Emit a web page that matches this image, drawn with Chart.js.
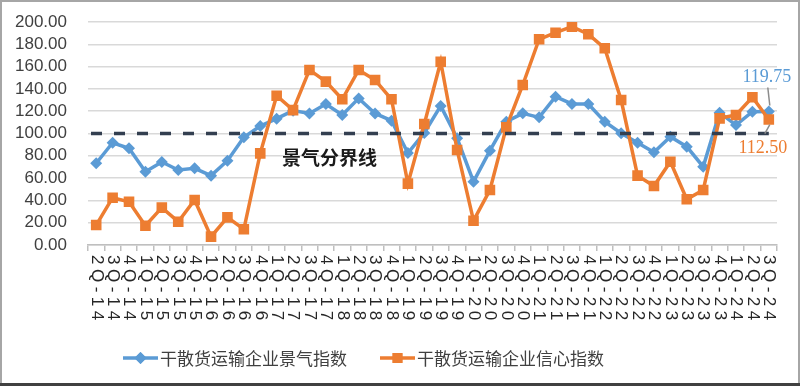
<!DOCTYPE html>
<html>
<head>
<meta charset="utf-8">
<script src="https://cdn.jsdelivr.net/npm/chart.js@4.4.1/dist/chart.umd.min.js"></script>
<style>
  html, body { margin: 0; padding: 0; background: #fff; }
  #wrap { width: 800px; height: 386px; position: relative; }
</style>
</head>
<body>
<div id="wrap"><canvas id="chart" width="800" height="386"></canvas></div>
<script>
const quarters = ["2Q-14","3Q-14","4Q-14","1Q-15","2Q-15","3Q-15","4Q-15","1Q-16","2Q-16","3Q-16","4Q-16",
  "1Q-17","2Q-17","3Q-17","4Q-17","1Q-18","2Q-18","3Q-18","4Q-18","1Q-19","2Q-19","3Q-19","4Q-19",
  "1Q-20","2Q-20","3Q-20","4Q-20","1Q-21","2Q-21","3Q-21","4Q-21","1Q-22","2Q-22","3Q-22","4Q-22",
  "1Q-23","2Q-23","3Q-23","4Q-23","1Q-24","2Q-24","3Q-24"];

// 干散货运输企业景气指数
const prosperity = [73.3, 91.7, 86.7, 65.7, 74.4, 67.3, 68.8, 62.2, 75.6, 96.6, 106.7,
  113.3, 120.5, 118.0, 126.5, 116.6, 131.5, 118.0, 111.5, 82.5, 100.5, 124.7, 95.7,
  56.8, 84.6, 110.6, 118.1, 114.5, 133.0, 126.5, 126.5, 110.6, 100.2, 91.7, 83.1,
  97.1, 88.2, 70.2, 118.7, 107.6, 119.6, 119.75];

// 干散货运输企业信心指数
const confidence = [17.9, 42.4, 38.8, 17.3, 33.5, 20.9, 40.4, 7.5, 24.8, 14.1, 82.2,
  133.9, 121.0, 157.0, 146.5, 130.7, 157.0, 148.0, 130.7, 55.0, 108.5, 164.4, 85.2,
  21.8, 49.3, 105.5, 143.5, 184.5, 190.4, 195.8, 189.0, 176.4, 130.0, 62.2, 52.9,
  74.7, 41.0, 49.3, 113.6, 116.6, 132.5, 112.5];

const seriesNames = ["干散货运输企业景气指数", "干散货运输企业信心指数"];
const boundary = 100;
const boundaryLabel = "景气分界线";

const BLUE = "#5B9BD5";
const ORANGE = "#ED7D31";
const cjk = "'Noto Sans CJK SC', 'Noto Sans', sans-serif";

// page frame, x labels turned clockwise, boundary line, end labels, legend
const extras = {
  id: "extras",
  beforeDraw(chart) {
    const ctx = chart.ctx;
    ctx.save();
    ctx.fillStyle = "#fff";
    ctx.fillRect(0, 0, chart.width, chart.height);
    ctx.restore();
  },
  afterDatasetsDraw(chart) {
    const ctx = chart.ctx;
    const x = chart.scales.x, y = chart.scales.y;
    const yb = y.getPixelForValue(boundary);
    ctx.save();
    ctx.strokeStyle = "#333F50";
    ctx.lineWidth = 3.5;
    ctx.setLineDash([11, 12]);
    ctx.beginPath();
    ctx.moveTo(chart.chartArea.left + 3, yb);
    ctx.lineTo(x.getPixelForValue(quarters.length - 1), yb);
    ctx.stroke();
    ctx.restore();
  },
  afterDraw(chart) {
    const ctx = chart.ctx;
    const x = chart.scales.x, y = chart.scales.y;
    ctx.save();

    // x labels
    ctx.fillStyle = "#262626";
    ctx.font = "17px 'Liberation Sans', Arial, sans-serif";
    ctx.letterSpacing = "4.5px";
    ctx.textAlign = "left";
    ctx.textBaseline = "middle";
    quarters.forEach((q, i) => {
      ctx.save();
      ctx.translate(x.getPixelForValue(i), x.top + 10);
      ctx.rotate(Math.PI / 2);
      ctx.fillText(q, 0, 0);
      ctx.restore();
    });
    ctx.letterSpacing = "0px";

    // boundary label
    ctx.fillStyle = "#1a1a1a";
    ctx.font = "bold 19px " + cjk;
    ctx.fillText(boundaryLabel, 282, y.getPixelForValue(boundary) + 24);

    // end value labels
    const last = quarters.length - 1;
    const lx = x.getPixelForValue(last);
    const pb = y.getPixelForValue(prosperity[last]);
    const pc = y.getPixelForValue(confidence[last]);
    ctx.strokeStyle = "#8c8c8c";
    ctx.lineWidth = 1.5;
    ctx.beginPath();
    ctx.moveTo(lx - 1, pb - 24);
    ctx.lineTo(lx + 1, pb - 6);
    ctx.moveTo(lx + 1, pc + 5);
    ctx.lineTo(lx - 4, pc + 14);
    ctx.stroke();
    ctx.font = "18px 'Liberation Serif', 'Times New Roman', serif";
    ctx.textAlign = "center";
    ctx.fillStyle = BLUE;
    ctx.fillText(prosperity[last].toFixed(2), lx - 2, pb - 34);
    ctx.fillStyle = ORANGE;
    ctx.fillText(confidence[last].toFixed(2), lx - 6, pc + 29);

    // legend
    const ly = 358;
    const items = [
      { color: BLUE, style: "rectRot", x0: 123 },
      { color: ORANGE, style: "rect", x0: 380 }
    ];
    ctx.textAlign = "left";
    ctx.font = "17px " + cjk;
    items.forEach((it, k) => {
      ctx.strokeStyle = it.color;
      ctx.lineWidth = 3.5;
      ctx.beginPath();
      ctx.moveTo(it.x0, ly);
      ctx.lineTo(it.x0 + 35, ly);
      ctx.stroke();
      ctx.fillStyle = it.color;
      Chart.helpers.drawPoint(ctx, { pointStyle: it.style, radius: it.style === "rect" ? 7 : 6, borderWidth: 0 }, it.x0 + 17.5, ly);
      ctx.fill();
      ctx.fillStyle = "#404040";
      ctx.fillText(seriesNames[k], it.x0 + 37, ly + 1);
    });

    // frame
    ctx.strokeStyle = "#a6a6a6";
    ctx.lineWidth = 2;
    ctx.strokeRect(1, 1, chart.width - 2, chart.height - 2);
    ctx.fillStyle = "#404040";
    ctx.fillRect(0, chart.height - 3, chart.width, 3);
    ctx.restore();
  }
};

new Chart(document.getElementById("chart"), {
  type: "line",
  data: {
    labels: quarters,
    datasets: [
      {
        label: seriesNames[0],
        data: prosperity,
        borderColor: BLUE,
        backgroundColor: BLUE,
        borderWidth: 3.5,
        pointStyle: "rectRot",
        pointRadius: 6,
        pointBorderWidth: 0,
        tension: 0,
        order: 1
      },
      {
        label: seriesNames[1],
        data: confidence,
        borderColor: ORANGE,
        backgroundColor: ORANGE,
        borderWidth: 3.5,
        pointStyle: "rect",
        pointRadius: 7.5,
        pointBorderWidth: 0,
        tension: 0,
        order: 0
      }
    ]
  },
  options: {
    responsive: false,
    animation: false,
    events: [],
    layout: { padding: { top: 22, right: 23, left: 0, bottom: 0 } },
    plugins: {
      legend: { display: false },
      tooltip: { enabled: false }
    },
    scales: {
      x: {
        offset: true,
        grid: { offset: true, drawOnChartArea: false, drawTicks: true, tickLength: 6, color: "#bfbfbf", lineWidth: 1.5 },
        border: { color: "#bfbfbf", width: 1.5 },
        ticks: { display: false },
        afterFit(scale) { scale.height = 386 - 245; }
      },
      y: {
        min: 0,
        max: 200,
        grid: { color: "#d9d9d9", lineWidth: 1.5, drawTicks: false },
        border: { display: false },
        ticks: {
          stepSize: 20,
          autoSkip: false,
          padding: 21,
          color: "#404040",
          font: { size: 17, family: "'Liberation Sans', Arial, sans-serif" },
          callback: (v) => v.toFixed(2)
        },
        afterFit(scale) {
          scale.width = 88;
          scale.paddingTop = 0;
          scale.paddingBottom = 0;
        }
      }
    }
  },
  plugins: [extras]
});
</script>
</body>
</html>
